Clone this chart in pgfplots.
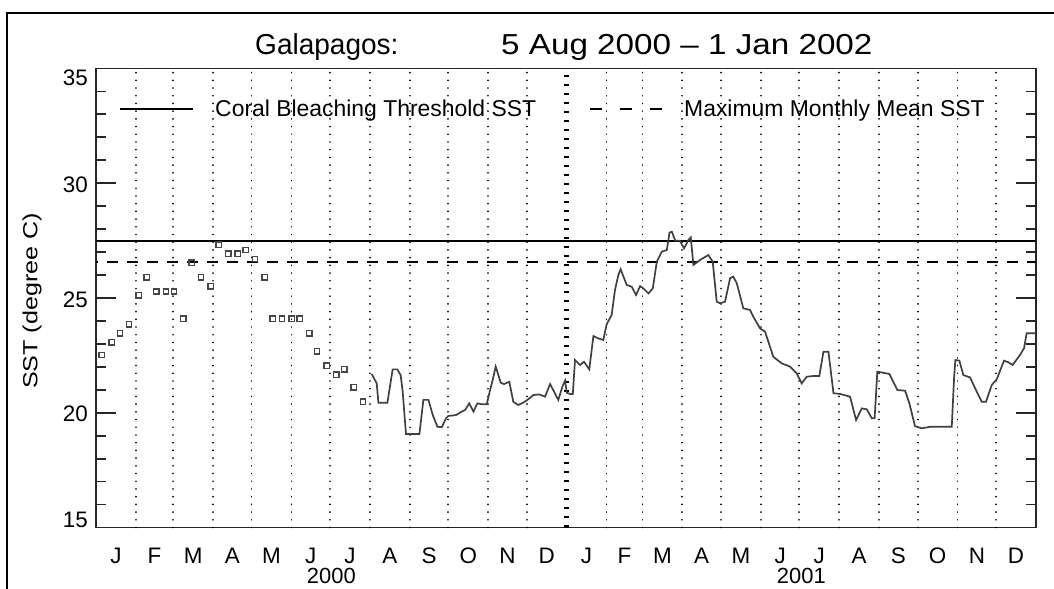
\documentclass[border=0pt]{standalone}
\usepackage{pgfplots}
\pgfplotsset{compat=1.18}
\usepackage{fontspec}
\setmainfont{Liberation Sans}
\pgfplotsset{
  legsolid/.style={legend image code/.code={\draw[##1] (0bp,0bp) -- (73bp,0bp);}},
  legdashed/.style={legend image code/.code={\draw[##1, dash pattern=on 12bp off 18bp, dash phase=0bp] (0bp,0bp) -- (72bp,0bp);}},
}
\begin{document}
\begin{tikzpicture}
\useasboundingbox (0,0) rectangle (1054bp,589bp);
\draw[line width=2.7bp, black, line join=miter] (7bp,0bp) -- (7bp,576bp) -- (1054bp,576bp);
\node[anchor=base west, inner sep=0pt, font=\fontsize{29}{33}\selectfont] at (255bp,534bp) {\scalebox{0.97}[1]{Galapagos:}};
\node[anchor=base west, inner sep=0pt, font=\fontsize{29}{33}\selectfont] at (501bp,534bp) {\scalebox{1.15}[1]{5 Aug 2000 -- 1 Jan 2002}};
\begin{axis}[
  at={(96bp,61.5bp)}, anchor=south west,
  scale only axis, width=940bp, height=459bp,
  xmin=0, xmax=731, ymin=15, ymax=35,
  axis line style={line width=1.8bp, black!85},
  tick style={line width=1.8bp, black!85},
  major tick length=20bp, minor tick length=10bp,
  tick align=inside,
  ytick={15,20,25,30,35}, yticklabels={,20,25,30,},
  minor y tick num=4,
  xtick={15.5,45.5,75.5,106,136.5,167,197.5,228.5,259,289.5,320,350.5,381.5,411,440.5,471,501.5,532,562.5,593.5,624,654.5,685,715.5},
  xticklabels={J,F,M,A,M,J,J,A,S,O,N,D,J,F,M,A,M,J,J,A,S,O,N,D},
  xtick style={draw=none},
  xticklabel style={anchor=base, yshift=-35.5bp, inner sep=0pt},
  yticklabel style={anchor=east, inner sep=0pt, xshift=-8bp, yshift=-1.5bp},
  tick label style={font=\fontsize{22.5}{26}\selectfont},
  extra x ticks={31,60,91,121,152,182,213,244,274,305,335,397,425,456,486,517,547,578,609,639,670,700},
  extra x tick labels={},
  extra x tick style={grid=major, xtick style={draw=none}, major grid style={black, line width=1.8bp, line cap=round, dash pattern=on 0.01bp off 7.7bp}},
  ylabel={\scalebox{1.23}[1]{SST (degree C)}},
  every axis y label/.style={at={(axis description cs:-0.0681,0.4935)}, rotate=90, anchor=center, inner sep=0pt, font=\fontsize{20.5}{24}\selectfont},
  legend style={at={(axis description cs:0.0245,0.912)}, anchor=west, draw=none, fill=none, inner sep=0pt,
    font=\fontsize{23}{26}\selectfont, nodes={inner sep=0pt},
    /tikz/every odd column/.style={column sep=21bp},
    /tikz/every even column/.style={column sep=53bp}},
  legend columns=2,
  clip=false,
]
\addplot[black, line width=2bp, legsolid] coordinates {(0,27.5) (731,27.5)};
\addlegendentry{Coral Bleaching Threshold SST}
\addplot[black, line width=2bp, dash pattern=on 11bp off 9bp, dash phase=9bp, legdashed] coordinates {(0,26.55) (731,26.55)};
\addlegendentry{Maximum Monthly Mean SST}

\draw[black, line width=4.5bp, dash pattern=on 2bp off 7bp] (axis cs:366,15) -- (axis cs:366,35);

\addplot[forget plot, only marks, mark=square, mark size=2.6bp, mark options={line width=1.4bp, draw=black!72, fill=none}] table {
x y
4.4 22.52
12.2 23.07
18.7 23.46
25.7 23.85
33.2 25.12
39.4 25.90
46.9 25.28
54.4 25.28
60.7 25.28
67.9 24.10
74.4 26.54
81.7 25.90
89.2 25.51
95.4 27.32
102.9 26.93
110.2 26.93
116.4 27.09
123.7 26.70
131.2 25.90
137.4 24.10
144.7 24.10
152.2 24.10
158.4 24.10
165.9 23.46
171.9 22.68
179.4 22.05
186.9 21.66
193.1 21.89
200.4 21.11
207.7 20.48
};

\addplot[forget plot, black!75, line width=1.7bp] table {
x y
214.4 21.69
218.3 21.28
219.6 20.44
226.6 20.44
230.7 21.89
234.3 21.89
236.9 21.64
238.5 20.92
240.3 19.61
241.1 19.07
251.5 19.07
254.6 20.56
258.5 20.56
261.9 19.90
265.5 19.39
268.9 19.37
272.2 19.76
274.0 19.86
280.0 19.90
284.4 20.05
287.0 20.12
290.3 20.41
293.5 20.05
296.6 20.41
300.0 20.37
303.9 20.37
306.5 21.00
308.5 21.43
310.8 22.01
312.1 21.79
314.7 21.31
317.3 21.25
321.4 21.35
324.5 20.48
328.4 20.34
332.3 20.44
336.2 20.59
340.1 20.77
344.7 20.80
349.2 20.70
353.1 21.25
356.2 20.92
359.5 20.56
362.9 21.17
364.8 21.40
366.1 20.87
368.7 20.82
370.8 20.82
372.5 22.30
376.4 22.08
379.5 22.22
383.6 21.89
386.8 23.34
390.6 23.24
394.5 23.17
397.1 23.85
401.0 24.26
403.6 25.35
406.2 26.00
408.0 26.25
412.7 25.57
416.6 25.49
420.0 25.13
423.1 25.52
426.0 25.40
429.6 25.20
433.0 25.42
436.1 26.58
440.0 27.02
443.9 27.09
446.0 27.85
447.8 27.89
450.4 27.50
454.0 27.50
457.3 27.16
460.7 27.53
462.5 27.64
464.6 26.44
469.8 26.66
476.2 26.87
479.6 26.58
482.7 24.84
485.3 24.77
489.2 24.84
493.1 25.86
495.6 25.93
498.3 25.64
503.4 24.55
508.6 24.48
511.2 24.18
516.4 23.68
520.3 23.53
526.7 22.44
533.3 22.15
539.7 22.01
544.9 21.72
548.8 21.28
552.7 21.57
557.9 21.60
562.5 21.60
565.7 22.66
569.6 22.66
573.5 20.85
578.6 20.82
586.4 20.70
591.1 19.68
595.5 20.19
599.4 20.15
603.3 19.76
605.5 19.76
607.6 21.79
617.0 21.69
623.2 20.99
629.2 20.96
632.5 20.41
636.9 19.42
642.1 19.32
648.6 19.39
665.5 19.39
667.3 21.54
668.3 22.30
671.4 22.27
674.5 21.64
679.7 21.54
684.9 20.92
688.8 20.48
692.1 20.48
696.6 21.21
700.5 21.46
706.1 22.27
709.5 22.20
712.8 22.08
718.6 22.52
721.7 22.81
723.7 23.46
731.0 23.46
};

\node[anchor=east, inner sep=0pt, xshift=-8bp, font=\fontsize{22.5}{26}\selectfont] at (axis cs:0,15.33) {15};
\node[anchor=east, inner sep=0pt, xshift=-8bp, font=\fontsize{22.5}{26}\selectfont] at (axis cs:0,34.59) {35};
\node[anchor=base, inner sep=0pt, yshift=-56bp, font=\fontsize{22}{26}\selectfont] at (axis cs:183,15) {2000};
\node[anchor=base, inner sep=0pt, yshift=-56bp, font=\fontsize{22}{26}\selectfont] at (axis cs:548.5,15) {2001};
\end{axis}
\end{tikzpicture}
\end{document}
